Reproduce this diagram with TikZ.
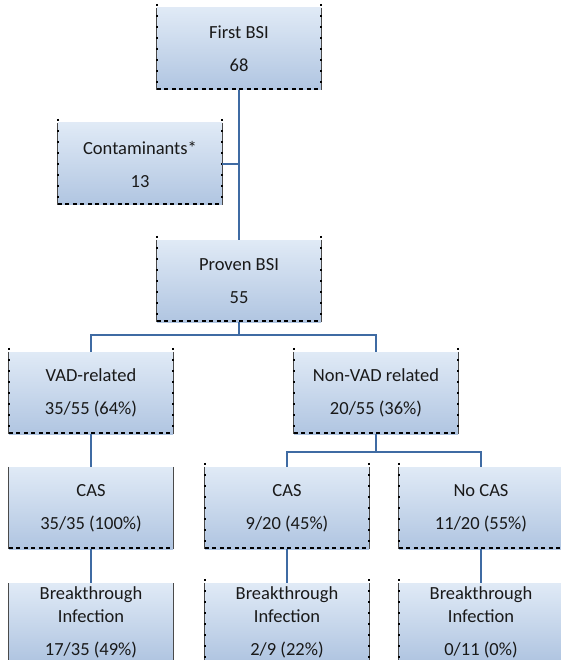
\documentclass[tikz,border=0pt]{standalone}
\usepackage{fontspec}
\setmainfont{Carlito}
\definecolor{boxtop}{HTML}{E0EAF6}
\definecolor{boxbot}{HTML}{B0C5E1}
\definecolor{linkblue}{HTML}{3F6BA3}
\definecolor{sidegray}{HTML}{4A4A4A}
\begin{document}
\begin{tikzpicture}[x=1pt,y=-1pt,
  box/.style={rectangle, inner sep=0pt, minimum width=164pt, minimum height=82pt,
    top color=boxtop, bottom color=boxbot, align=center,
    font=\fontsize{18.5}{23}\selectfont, text=black!90},
  bbox/.style={box, minimum height=77pt},
  sideline/.style={draw=sidegray, line width=1pt},
  sidedots/.style={draw=black, line width=2.2pt, dash pattern=on 2pt off 9pt},
  bottomdash/.style={draw=black, line width=2pt, dash pattern=on 4pt off 3.5pt},
  link/.style={draw=linkblue, line width=2pt}]
\useasboundingbox[fill=white] (0,0) rectangle (561,660);

\node[box] (first) at (239,49) {First BSI\\[10pt]68};
\node[box] (cont) at (140,164) {Contaminants*\\[10pt]13};
\node[box] (proven) at (239,281) {Proven BSI\\[10pt]55};
\node[box] (vad) at (91,393) {VAD-related\\[10pt]35/55 (64\%)};
\node[box] (nonvad) at (376,393) {Non-VAD related\\[10pt]20/55 (36\%)};
\node[box] (cas1) at (91,508) {CAS\\[10pt]35/35 (100\%)};
\node[box] (cas2) at (287,508) {CAS\\[10pt]9/20 (45\%)};
\node[box] (nocas) at (481,508) {No CAS\\[10pt]11/20 (55\%)};
\node[bbox] (bt1) at (91,622) {Breakthrough\\Infection\\[10pt]17/35 (49\%)};
\node[bbox] (bt2) at (287,622) {Breakthrough\\Infection\\[10pt]2/9 (22\%)};
\node[bbox] (bt3) at (481,622) {Breakthrough\\Infection\\[10pt]0/11 (0\%)};

\foreach \n in {first,cont,proven,vad,nonvad,cas1,cas2,nocas,bt1,bt2,bt3}{
  \draw[sideline] (\n.north west) -- (\n.south west);
  \draw[sideline] (\n.north east) -- (\n.south east);
}
\foreach \n in {first,cont,proven,vad,nonvad,cas2,nocas,bt2,bt3}{
  \draw[sidedots] ([yshift=4pt]\n.north west) -- (\n.south west);
  \draw[sidedots] ([yshift=4pt]\n.north east) -- (\n.south east);
}
\foreach \n in {first,cont,proven,vad,nonvad,cas1,cas2,nocas}{
  \draw[bottomdash] ([yshift=1pt]\n.south west) -- ([yshift=1pt]\n.south east);
}

\draw[link] (first.south) -- (proven.north);
\draw[link] (cont.east) -- (cont.east -| first.south);
\coordinate (j1) at (239,335);
\draw[link] (proven.south) -- (j1);
\draw[link] (vad.north) |- (j1) -| (nonvad.north);
\draw[link] (vad.south) -- (cas1.north);
\coordinate (j2) at (376,452);
\draw[link] (nonvad.south) -- (j2);
\draw[link] (cas2.north) |- (j2) -| (nocas.north);
\draw[link] (cas1.south) -- (bt1.north);
\draw[link] (cas2.south) -- (bt2.north);
\draw[link] (nocas.south) -- (bt3.north);
\end{tikzpicture}
\end{document}
